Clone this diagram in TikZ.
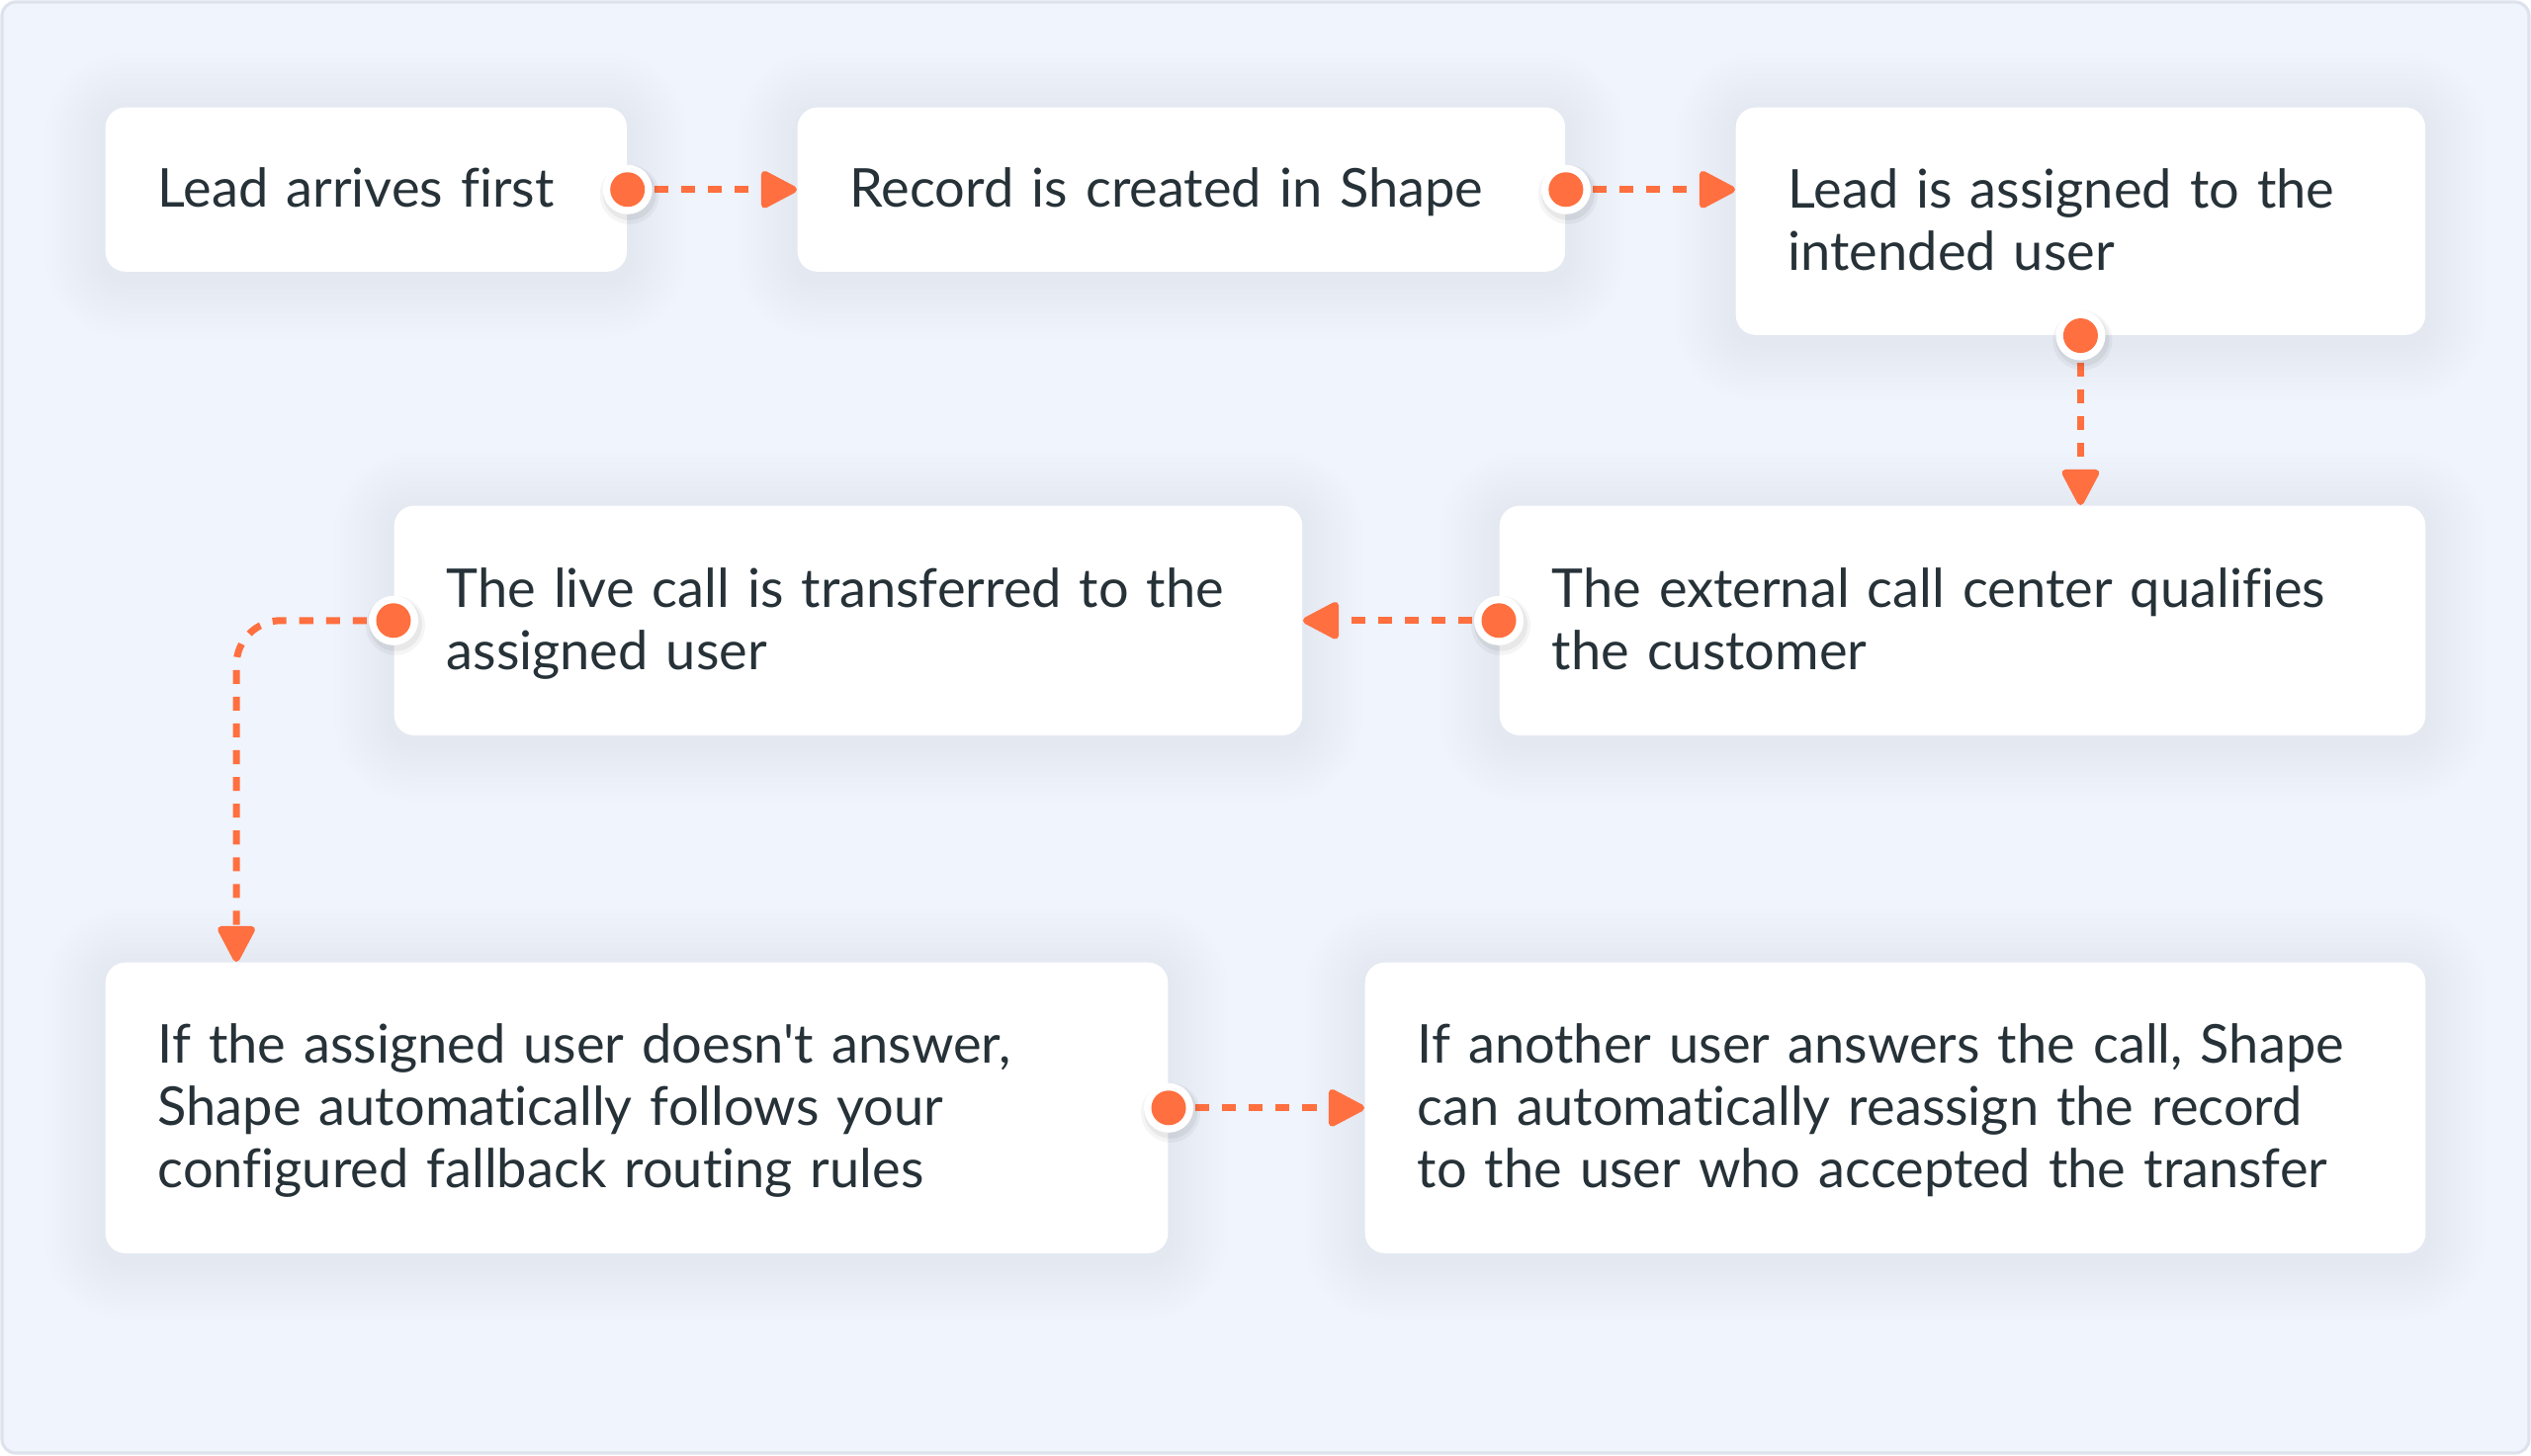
\documentclass[tikz,border=0pt]{standalone}
\usepackage{fontspec}
\setmainfont{Lato}[Ligatures={NoCommon}]
\usetikzlibrary{arrows.meta}
\definecolor{bgc}{HTML}{EFF4FD}
\definecolor{framec}{HTML}{DDE2EC}
\definecolor{orng}{HTML}{FF6F3F}
\definecolor{txtc}{HTML}{263238}
\pgfdeclarelayer{back}
\pgfdeclarelayer{shade}
\pgfsetlayers{back,shade,main}
\newcommand{\cardshade}[1]{%
  \foreach \k [evaluate=\k as \rr using {0.2+0.05*\k}] in {1,...,12} {
    \fill[black, opacity=0.005, rounded corners=\rr cm]
      ([shift={(-\k*5,-\k*5+6)}]#1.north west) rectangle ([shift={(\k*5,\k*5+6)}]#1.south east);
  }}
\newcommand{\dotshade}[1]{%
  \fill[black, opacity=0.05] ([shift={(2,4)}]#1.center) circle (0.27cm);
  \fill[black, opacity=0.04] ([shift={(2,5)}]#1.center) circle (0.30cm);}
\tikzset{
  card/.style={fill=white, rounded corners=0.2cm, anchor=north west,
    inner xsep=0pt, inner ysep=0pt, align=left, text=txtc,
    font=\fontsize{15.4pt}{17.9pt}\selectfont,
    execute at begin node={\rule{0pt}{15pt}},
    execute at end node={\rule[-4.8pt]{0pt}{4.8pt}}},
  dotnode/.style={circle, fill=white, minimum size=0.5cm, inner sep=0pt,
    path picture={\fill[orng] (path picture bounding box.center) circle (0.175cm);}},
  flow/.style={draw=orng, line width=2pt, dash pattern=on 4pt off 3.7pt,
    -{Triangle[length=11.5pt,width=11.5pt,round]}},
}
\begin{document}
\begin{tikzpicture}[x=0.01cm, y=-0.01cm]
\useasboundingbox (0,0) rectangle (2560,1472);
\begin{pgfonlayer}{back}
\draw[framec, line width=0.9pt, fill=bgc, rounded corners=0.14cm] (2,2) rectangle (2558,1470);
\end{pgfonlayer}

\node[card, minimum width=5.27cm, minimum height=1.66cm, text width=4.21cm] (b1) at (106,108) {Lead arrives first};
\node[card, minimum width=7.76cm, minimum height=1.66cm, text width=6.70cm] (b2) at (806,108) {Record is created in Shape};
\node[card, minimum width=6.97cm, minimum height=2.30cm, text width=5.91cm] (b3) at (1755,108) {Lead is assigned to the\\intended user};
\node[card, minimum width=9.36cm, minimum height=2.32cm, text width=8.30cm] (b4) at (1516,511) {The external call center qualifies\\the customer};
\node[card, minimum width=9.18cm, minimum height=2.32cm, text width=8.12cm] (b5) at (398,511) {The live call is transferred to the\\assigned user};
\node[card, minimum width=10.74cm, minimum height=2.94cm, text width=9.68cm] (b6) at (106,973) {If the assigned user doesn\textquotesingle t answer,\\Shape automatically follows your\\configured fallback routing rules};
\node[card, minimum width=10.72cm, minimum height=2.94cm, text width=9.66cm] (b7) at (1380,973) {If another user answers the call, Shape\\can automatically reassign the record\\to the user who accepted the transfer};

\begin{pgfonlayer}{shade}
\foreach \b in {b1,b2,b3,b4,b5,b6,b7} {\cardshade{\b}}
\end{pgfonlayer}

\coordinate (d1) at (b1.east);
\coordinate (d2) at (b2.east);
\coordinate (d3) at (b3.south);
\coordinate (d4) at (b4.west);
\coordinate (d5) at (b5.west);
\coordinate (d6) at (b6.east);
\coordinate (c6) at ([xshift=1.33cm]b6.north west);

\draw[flow] (d1) -- (b2.west);
\draw[flow] (d2) -- (d2 -| b3.west);
\draw[flow] (d3) -- (d3 |- b4.north);
\draw[flow] (d4) -- (b5.east);
\draw[flow, rounded corners=0.45cm] (d5) -| (c6);
\draw[flow] (d6) -- (b7.west);

\foreach \d in {d1,d2,d3,d4,d5,d6} {\dotshade{\d}}
\node[dotnode] (n1) at (d1) {};
\node[dotnode] (n2) at (d2) {};
\node[dotnode] (n3) at (d3) {};
\node[dotnode] (n4) at (d4) {};
\node[dotnode] (n5) at (d5) {};
\node[dotnode] (n6) at (d6) {};
\end{tikzpicture}
\end{document}
